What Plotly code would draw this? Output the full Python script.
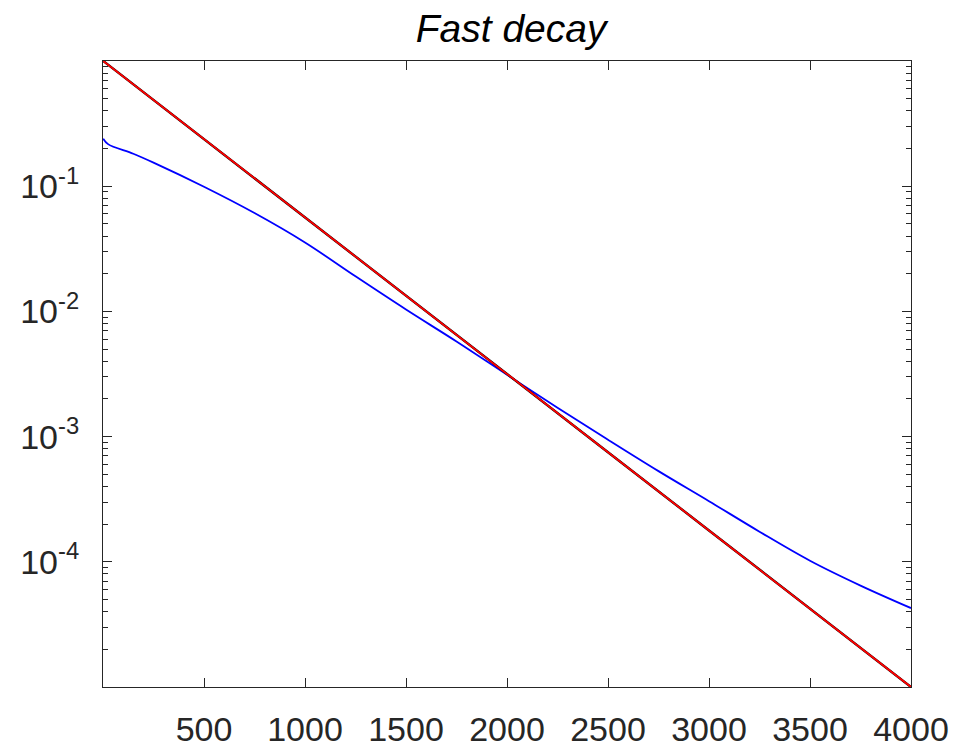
import plotly.graph_objects as go

# ---- data ----
x_blue = [1, 25, 150, 250, 500, 750, 1000, 1250, 1500, 1750, 2000, 2250, 2500,
          2750, 3000, 3250, 3500, 3750, 4000]
y_blue = [0.240, 0.2168, 0.1816, 0.1542, 0.0989, 0.0610, 0.0355, 0.01905, 0.01035,
          5.75e-3, 3.12e-3, 1.70e-3, 9.44e-4, 5.3e-4, 3.05e-4, 1.74e-4,
          1.02e-4, 6.46e-5, 4.27e-5]

x_red = [1, 500, 1000, 1500, 2000, 2500, 3000, 3500, 4000]
y_red = [1.0, 0.237, 0.0562, 0.0133, 3.16e-3, 7.5e-4, 1.78e-4, 4.22e-5, 1.0e-5]

x_ticks = [500, 1000, 1500, 2000, 2500, 3000, 3500, 4000]
x_ticklabels = ["500", "1000", "1500", "2000", "2500", "3000", "3500", "4000"]
y_ticks = [1e-1, 1e-2, 1e-3, 1e-4]
y_ticklabels = ["10<sup>-1</sup>", "10<sup>-2</sup>", "10<sup>-3</sup>", "10<sup>-4</sup>"]
title_text = "Fast decay"

minor_ticks = [m * 10.0 ** k for k in range(-5, 0) for m in range(2, 10)]

AX = "#262626"
FONT = "Liberation Sans, Arial, Helvetica, sans-serif"

fig = go.Figure()
fig.add_trace(go.Scatter(x=x_blue, y=y_blue, mode="lines",
                         line=dict(color="#0000ff", width=1.8, shape="spline", smoothing=1.0),
                         showlegend=False, hoverinfo="skip"))
fig.add_trace(go.Scatter(x=x_red, y=y_red, mode="lines",
                         line=dict(color="#000000", width=2.4),
                         showlegend=False, hoverinfo="skip"))
fig.add_trace(go.Scatter(x=x_red, y=y_red, mode="lines",
                         line=dict(color="#ff0000", width=1.8),
                         showlegend=False, hoverinfo="skip"))
# helper trace so the minor-tick axis is drawn
fig.add_trace(go.Scatter(x=x_red, y=y_red, mode="lines", yaxis="y2",
                         line=dict(color="rgba(0,0,0,0)", width=0),
                         showlegend=False, hoverinfo="skip"))

fig.update_layout(
    width=959, height=750,
    margin=dict(l=103, r=48, t=61, b=63, autoexpand=False),
    paper_bgcolor="white", plot_bgcolor="white",
    font=dict(family=FONT, size=34, color=AX),
    title=dict(text=title_text, x=0.533, xanchor="center",
               y=0.962, yanchor="middle", yref="container",
               font=dict(family=FONT, size=39, color="#000000", style="italic")),
    xaxis=dict(range=[0, 4000], tickmode="array", tickvals=x_ticks,
               ticktext=x_ticklabels, ticks="inside", ticklen=9, tickwidth=1,
               tickcolor=AX, showline=True, linecolor=AX, linewidth=1,
               mirror="ticks", showgrid=False, zeroline=False, automargin=False,
               ticklabelstandoff=12,
               tickfont=dict(family=FONT, size=34, color=AX)),
    yaxis=dict(type="log", range=[-5, 0], tickmode="array", tickvals=y_ticks,
               ticktext=y_ticklabels, ticks="inside", ticklen=9, tickwidth=1,
               tickcolor=AX, showline=True, linecolor=AX, linewidth=1,
               mirror="ticks", showgrid=False, zeroline=False, automargin=False,
               ticklabelstandoff=16,
               tickfont=dict(family=FONT, size=34, color=AX)),
    yaxis2=dict(type="log", range=[-5, 0], overlaying="y", side="left",
                tickmode="array", tickvals=minor_ticks, showticklabels=False,
                ticks="inside", ticklen=5, tickwidth=1, tickcolor=AX,
                showline=False, mirror="ticks", showgrid=False, zeroline=False,
                automargin=False),
)

fig.write_html("out.html")
